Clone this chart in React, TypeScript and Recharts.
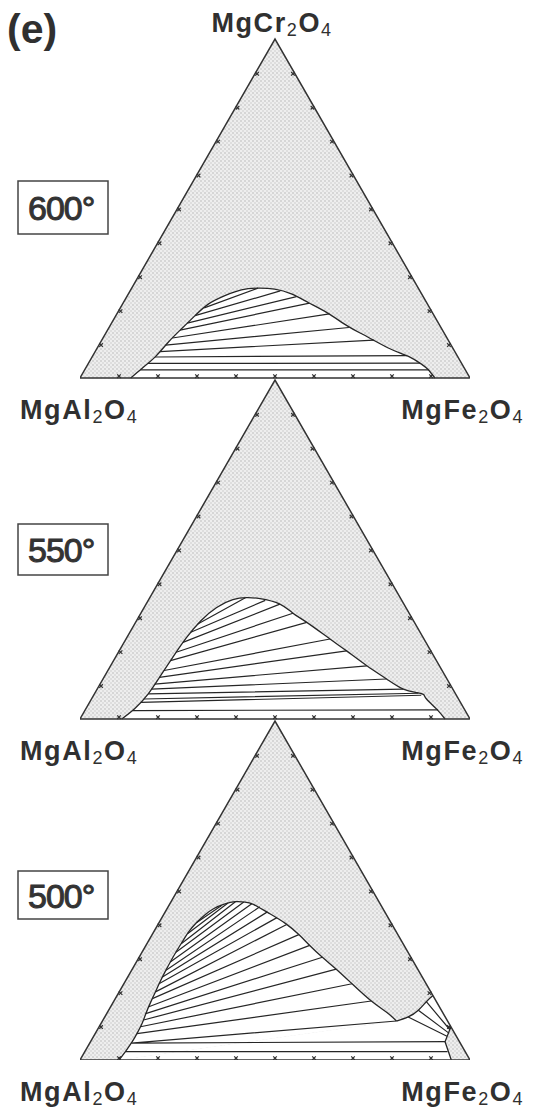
import React from 'react';
import { ScatterChart, Scatter, XAxis, YAxis, Curve } from 'recharts';

// composition = [X MgFe2O4, X MgCr2O4]; X MgAl2O4 is the rest
type Comp = [number, number];
type Tie = [Comp, Comp];
type Token = [string, boolean];

const TEMPS = ['600°', '550°', '500°'];
const LABEL_CR: Token[] = [['MgCr', false], ['2', true], ['O', false], ['4', true]];
const LABEL_AL: Token[] = [['MgAl', false], ['2', true], ['O', false], ['4', true]];
const LABEL_FE: Token[] = [['MgFe', false], ['2', true], ['O', false], ['4', true]];
const TICK_STEPS = [0.1, 0.2, 0.3, 0.4, 0.5, 0.6, 0.7, 0.8, 0.9];

// 600 C
const BINODAL_600: Comp[] = [
  [0.13, 0], [0.145, 0.029], [0.162, 0.063], [0.174, 0.107], [0.188, 0.146], [0.203, 0.184],
  [0.22, 0.218], [0.25, 0.243], [0.284, 0.26], [0.324, 0.265], [0.368, 0.262], [0.418, 0.248],
  [0.475, 0.222], [0.538, 0.192], [0.61, 0.153], [0.66, 0.129], [0.702, 0.109], [0.757, 0.084],
  [0.812, 0.063], [0.855, 0.041], [0.88, 0.025], [0.91, 0],
];
const TIES_600: Tie[] = [
  [[0.215, 0.207], [0.324, 0.265]],
  [[0.203, 0.184], [0.385, 0.257]],
  [[0.194, 0.162], [0.435, 0.24]],
  [[0.186, 0.141], [0.478, 0.221]],
  [[0.178, 0.118], [0.545, 0.189]],
  [[0.171, 0.097], [0.615, 0.149]],
  [[0.166, 0.078], [0.697, 0.112]],
  [[0.161, 0.062], [0.805, 0.066]],
  [[0.152, 0.043], [0.85, 0.044]],
  [[0.143, 0.024], [0.882, 0.024]],
];

// 550 C
const BINODAL_550: Comp[] = [
  [0.107, 0], [0.125, 0.03], [0.138, 0.075], [0.143, 0.13], [0.147, 0.185], [0.153, 0.24],
  [0.165, 0.29], [0.186, 0.329], [0.216, 0.352], [0.248, 0.358], [0.284, 0.355], [0.343, 0.339],
  [0.39, 0.312], [0.439, 0.285], [0.523, 0.236], [0.583, 0.201], [0.657, 0.157], [0.727, 0.118],
  [0.785, 0.088], [0.825, 0.078], [0.845, 0.072], [0.859, 0.059], [0.9, 0.029], [0.936, 0],
];
const TIES_550: Tie[] = [
  [[0.162, 0.28], [0.245, 0.358]],
  [[0.156, 0.256], [0.3, 0.35]],
  [[0.151, 0.226], [0.343, 0.339]],
  [[0.148, 0.197], [0.39, 0.312]],
  [[0.146, 0.172], [0.439, 0.285]],
  [[0.144, 0.143], [0.523, 0.236]],
  [[0.142, 0.123], [0.583, 0.201]],
  [[0.14, 0.103], [0.657, 0.157]],
  [[0.139, 0.088], [0.727, 0.118]],
  [[0.138, 0.074], [0.785, 0.088]],
  [[0.134, 0.059], [0.83, 0.076]],
  [[0.131, 0.049], [0.84, 0.07]],
  [[0.123, 0.025], [0.905, 0.027]],
];

// 500 C
const BINODAL_500: Comp[] = [
  [0.1, 0], [0.104, 0.025], [0.107, 0.054], [0.107, 0.08], [0.105, 0.11], [0.1, 0.14],
  [0.096, 0.17], [0.093, 0.2], [0.09, 0.23], [0.088, 0.26], [0.087, 0.29], [0.087, 0.32],
  [0.088, 0.35], [0.09, 0.38], [0.096, 0.405], [0.106, 0.428], [0.12, 0.447], [0.14, 0.46],
  [0.165, 0.467], [0.19, 0.466], [0.215, 0.459], [0.266, 0.434], [0.325, 0.403], [0.376, 0.37],
  [0.42, 0.338], [0.47, 0.303], [0.523, 0.268], [0.585, 0.225], [0.66, 0.174], [0.717, 0.14],
  [0.754, 0.115],
];
const CRFE_EDGE_500: Comp[] = [[0.754, 0.115], [0.778, 0.127], [0.794, 0.147], [0.802, 0.172], [0.81, 0.19]];
const FE_LIMB_500: Comp[] = [[0.902, 0.098], [0.909, 0.054], [0.952, 0]];
const TIES_500: Tie[] = [
  [[0.096, 0.405], [0.135, 0.456]],
  [[0.09, 0.373], [0.148, 0.463]],
  [[0.088, 0.343], [0.165, 0.467]],
  [[0.087, 0.318], [0.187, 0.466]],
  [[0.087, 0.289], [0.21, 0.461]],
  [[0.088, 0.265], [0.235, 0.452]],
  [[0.089, 0.245], [0.262, 0.437]],
  [[0.09, 0.225], [0.295, 0.42]],
  [[0.093, 0.201], [0.33, 0.4]],
  [[0.095, 0.181], [0.376, 0.37]],
  [[0.098, 0.157], [0.42, 0.338]],
  [[0.1, 0.137], [0.47, 0.303]],
  [[0.104, 0.118], [0.523, 0.268]],
  [[0.106, 0.098], [0.585, 0.225]],
  [[0.107, 0.078], [0.66, 0.174]],
  // three-phase triangle
  [[0.107, 0.05], [0.754, 0.115]],
  [[0.107, 0.05], [0.909, 0.054]],
  [[0.104, 0.025], [0.93, 0.025]],
  // MgCr2O4-MgFe2O4 gap
  [[0.778, 0.127], [0.906, 0.07]],
  [[0.794, 0.147], [0.905, 0.08]],
  [[0.802, 0.172], [0.903, 0.09]],
];

const INK = '#262626';
const FONT = '"Liberation Sans", Arial, Helvetica, sans-serif';
const K = 0.994; // triangle height inside one panel slot

const xy = (c: Comp, panel: number) => ({ x: c[0] + c[1] / 2, y: 2 - panel + c[1] * K });
const pts = (cs: Comp[], panel: number) => cs.map((c) => xy(c, panel));
const tiePts = (ties: Tie[], panel: number) => ties.flatMap((t) => [xy(t[0], panel), xy(t[1], panel)]);

const noDot = () => <g />;
const pathOf = (p: { x: number; y: number }[], close = false) =>
  p.map((q, i) => `${i ? 'L' : 'M'}${q.x.toFixed(2)},${q.y.toFixed(2)}`).join(' ') + (close ? ' Z' : '');

const fillPoly = (fill: string) => (lp: any) => <path d={pathOf(lp.points, true)} fill={fill} stroke="none" />;
const smooth = (fill: string, stroke: string) => (lp: any) => (
  <Curve points={lp.points} type="natural" fill={fill} stroke={stroke} strokeWidth={1.3} />
);
const segs = (lp: any) => {
  const p = lp.points;
  let d = '';
  for (let i = 0; i + 1 < p.length; i += 2) d += `M${p[i].x},${p[i].y}L${p[i + 1].x},${p[i + 1].y}`;
  return <path d={d} fill="none" stroke={INK} strokeWidth={1.2} />;
};
const outline = (lp: any) => (
  <path d={pathOf(lp.points, true)} fill="none" stroke="#333" strokeWidth={1.5} strokeLinejoin="miter" />
);
const tickMark = (nx: number, ny: number) => (props: any) => {
  const ox = props.cx + nx * 1.8;
  const oy = props.cy + ny * 1.8;
  return (
    <path
      d={`M${ox - 1.8},${oy - 1.8}L${ox + 1.8},${oy + 1.8}M${ox - 1.8},${oy + 1.8}L${ox + 1.8},${oy - 1.8}`}
      stroke="#333"
      strokeWidth={1.2}
    />
  );
};

const CORNERS: Comp[] = [[0, 0], [1, 0], [0, 1]];

function panelSeries(panel: number, binodal: Comp[], ties: Tie[]) {
  const k = `p${panel}-`;
  const items = [
    <Scatter key={k + 'bg'} data={pts(CORNERS, panel)} shape={noDot} line={fillPoly('url(#halftone)')} isAnimationActive={false} />,
    <Scatter key={k + 'gap'} data={pts(binodal, panel)} shape={noDot} line={smooth('#fff', 'none')} isAnimationActive={false} />,
  ];
  if (panel === 2) {
    const rest = [binodal[0], ...CRFE_EDGE_500, ...FE_LIMB_500];
    items.push(
      <Scatter key={k + 'gap2'} data={pts(rest, panel)} shape={noDot} line={fillPoly('#fff')} isAnimationActive={false} />,
    );
  }
  items.push(
    <Scatter key={k + 'tb'} data={pts(TICK_STEPS.map((s) => [s, 0] as Comp), panel)} shape={tickMark(0, -1)} isAnimationActive={false} />,
    <Scatter key={k + 'tl'} data={pts(TICK_STEPS.map((s) => [0, s] as Comp), panel)} shape={tickMark(0.867, 0.5)} isAnimationActive={false} />,
    <Scatter key={k + 'tr'} data={pts(TICK_STEPS.map((s) => [1 - s, s] as Comp), panel)} shape={tickMark(-0.867, 0.5)} isAnimationActive={false} />,
    <Scatter key={k + 'ties'} data={tiePts(ties, panel)} shape={noDot} line={segs} isAnimationActive={false} />,
    <Scatter key={k + 'bin'} data={pts(binodal, panel)} shape={noDot} line={smooth('none', INK)} isAnimationActive={false} />,
  );
  if (panel === 2) {
    items.push(
      <Scatter key={k + 'crfe'} data={pts(CRFE_EDGE_500, panel)} shape={noDot} line={smooth('none', INK)} isAnimationActive={false} />,
      <Scatter key={k + 'fe'} data={pts(FE_LIMB_500, panel)} shape={noDot} line={{ stroke: INK, strokeWidth: 1.3, fill: 'none' }} isAnimationActive={false} />,
    );
  }
  items.push(
    <Scatter key={k + 'tri'} data={pts(CORNERS, panel)} shape={noDot} line={outline} isAnimationActive={false} />,
  );
  return items;
}

function Formula({ x, y, anchor, tokens }: { x: number; y: number; anchor: 'start' | 'middle' | 'end'; tokens: Token[] }) {
  return (
    <text x={x} y={y} textAnchor={anchor} fontFamily={FONT} fontSize={27} fontWeight="bold" fill="#303030" letterSpacing={1.6}>
      {tokens.map(([s, sub], i) => {
        const prevSub = i > 0 && tokens[i - 1][1];
        const dy = sub ? 4 : prevSub ? -4 : 0;
        return (
          <tspan key={i} dy={dy} fontSize={sub ? 18 : 27} fontWeight={sub ? 'normal' : 'bold'}>
            {s}
          </tspan>
        );
      })}
    </text>
  );
}

const BASES = [378, 719, 1060];
const BOXES = [
  { top: 181, h: 53 },
  { top: 524, h: 51 },
  { top: 871, h: 48 },
];

export default function App() {
  return (
    <div style={{ position: 'absolute', left: 0, top: 0, width: 535, height: 1110, background: '#fff' }}>
      <svg width={0} height={0} style={{ position: 'absolute' }}>
        <defs>
          <pattern id="halftone" width={4} height={4} patternUnits="userSpaceOnUse">
            <rect width={4} height={4} fill="#eeeeee" />
            <rect width={2} height={2} fill="#d6d6d6" />
            <rect x={2} y={2} width={2} height={2} fill="#dedede" />
          </pattern>
        </defs>
      </svg>
      <ScatterChart width={535} height={1110} margin={{ top: 37, right: 65, bottom: 50, left: 80 }}>
        <XAxis type="number" dataKey="x" domain={[0, 1]} allowDataOverflow hide />
        <YAxis type="number" dataKey="y" domain={[0, 3]} allowDataOverflow hide />
        {panelSeries(0, BINODAL_600, TIES_600)}
        {panelSeries(1, BINODAL_550, TIES_550)}
        {panelSeries(2, BINODAL_500, TIES_500)}
      </ScatterChart>
      <svg width={535} height={1110} style={{ position: 'absolute', left: 0, top: 0, pointerEvents: 'none' }}>
        <text x={7} y={43} fontFamily={FONT} fontSize={41} fontWeight="bold" fill="#303030">
          (e)
        </text>
        <Formula x={272} y={32} anchor="middle" tokens={LABEL_CR} />
        {BASES.map((b, i) => (
          <g key={i}>
            <Formula x={20} y={b + 41} anchor="start" tokens={LABEL_AL} />
            <Formula x={524} y={b + 41} anchor="end" tokens={LABEL_FE} />
            <rect x={18} y={BOXES[i].top} width={90} height={BOXES[i].h} fill="#fff" stroke="#444" strokeWidth={1.5} />
            <text
              x={28}
              y={BOXES[i].top + BOXES[i].h / 2 + 12.5}
              fontFamily={FONT}
              fontSize={34}
              fill="#333"
              stroke="#333"
              strokeWidth={1}
              letterSpacing={-1}
            >
              {TEMPS[i]}
            </text>
          </g>
        ))}
      </svg>
    </div>
  );
}
